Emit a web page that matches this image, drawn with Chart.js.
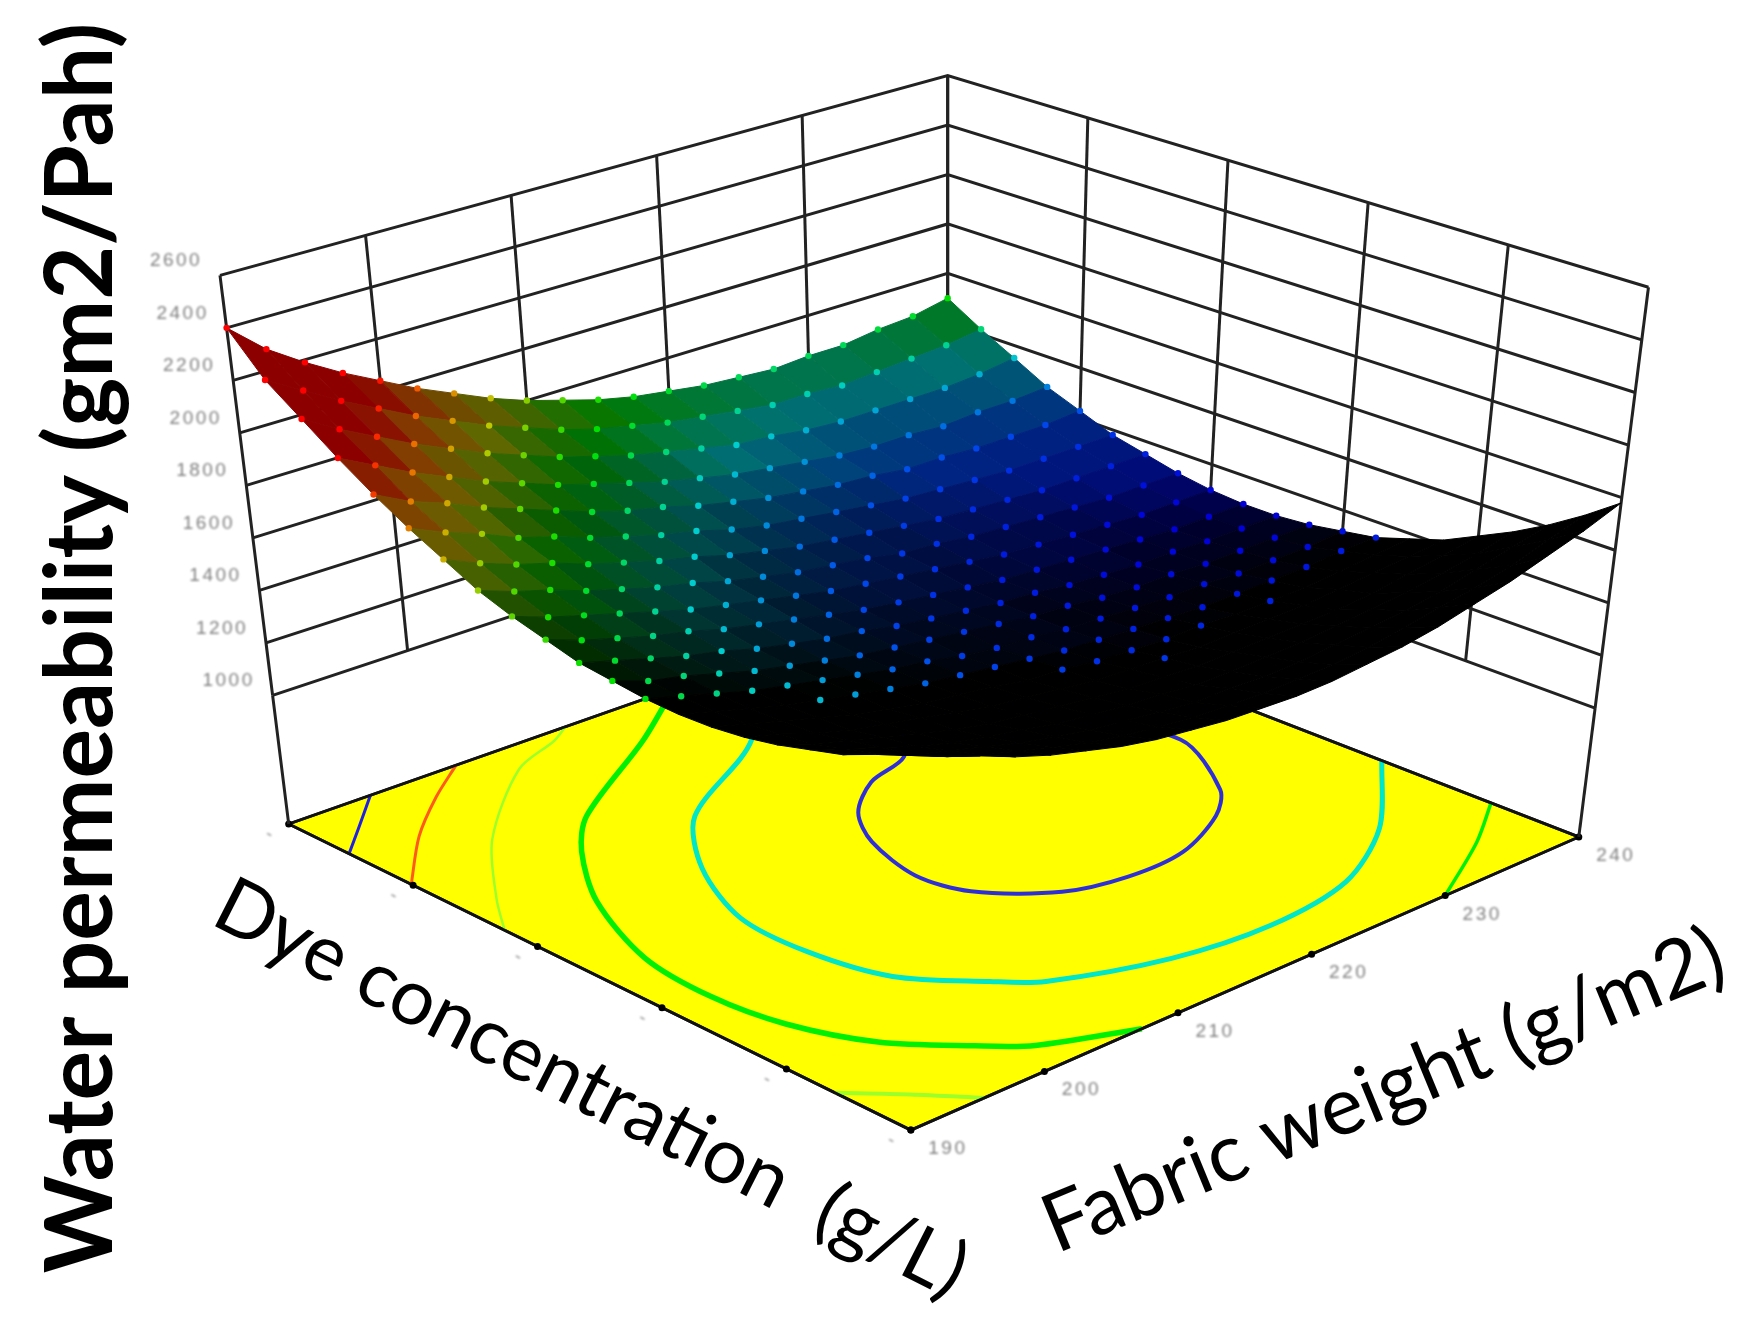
<!DOCTYPE html>
<html>
<head>
<meta charset="utf-8">
<title>Water permeability surface</title>
<script src="https://cdn.jsdelivr.net/npm/chart.js"></script>
<style>
  html, body { margin: 0; padding: 0; background: #fff; }
  canvas { display: block; }
</style>
</head>
<body>
<canvas id="graph" width="1754" height="1318"></canvas>
<script>
// axis ticks
const weightTicks = [190, 200, 210, 220, 230, 240]
const dyeTicks = [0, 0.2, 0.4, 0.6, 0.8, 1]
const dyeTickLabels = ['-', '-', '-', '-', '-', '-']
const zTicks = [1000, 1200, 1400, 1600, 1800, 2000, 2200, 2400, 2600]

// surface samples, one row per dye position (front to back)
const surfaceWeights = [190, 192.5, 195, 197.5, 200, 202.5, 205, 207.5, 210, 212.5, 215, 217.5, 220, 222.5, 225, 227.5, 230, 232.5, 235, 237.5, 240]
const surfaceDyes = [0, 0.05, 0.1, 0.15, 0.2, 0.25, 0.3, 0.35, 0.4, 0.45, 0.5, 0.55, 0.6, 0.65, 0.7, 0.75, 0.8, 0.85, 0.9, 0.95, 1]
const permeability = [
  [1950,1890,1830,1770,1720,1680,1640,1610,1590,1570,1560,1550,1550,1560,1570,1590,1620,1650,1690,1730,1780],
  [1890,1830,1770,1720,1680,1640,1600,1570,1550,1530,1520,1510,1510,1510,1520,1540,1560,1580,1610,1650,1690],
  [1830,1780,1720,1680,1640,1600,1570,1540,1520,1500,1480,1480,1470,1470,1480,1490,1500,1520,1550,1580,1610],
  [1790,1740,1690,1640,1600,1570,1540,1510,1490,1470,1460,1440,1440,1440,1440,1450,1460,1470,1490,1510,1540],
  [1750,1700,1660,1620,1580,1540,1510,1490,1470,1450,1430,1420,1410,1410,1410,1410,1410,1420,1440,1460,1480],
  [1720,1680,1630,1590,1560,1530,1500,1470,1450,1430,1410,1400,1390,1380,1380,1380,1380,1390,1400,1410,1420],
  [1700,1660,1620,1580,1540,1510,1480,1460,1440,1410,1400,1380,1370,1360,1360,1350,1350,1350,1360,1370,1380],
  [1690,1650,1610,1570,1540,1510,1480,1450,1430,1410,1390,1370,1360,1350,1340,1330,1330,1330,1330,1340,1340],
  [1690,1650,1610,1570,1540,1510,1480,1450,1430,1400,1380,1370,1350,1340,1330,1320,1320,1310,1310,1310,1320],
  [1700,1650,1620,1580,1540,1510,1480,1450,1430,1410,1390,1370,1350,1340,1320,1310,1310,1300,1300,1300,1300],
  [1710,1670,1630,1590,1560,1520,1490,1460,1440,1410,1390,1370,1350,1340,1320,1310,1300,1300,1290,1290,1290],
  [1740,1690,1650,1610,1580,1540,1510,1480,1450,1420,1400,1380,1360,1340,1330,1320,1310,1300,1290,1290,1290],
  [1770,1720,1680,1640,1600,1560,1530,1500,1470,1440,1420,1400,1380,1360,1340,1330,1320,1310,1300,1300,1300],
  [1810,1760,1720,1670,1630,1590,1560,1520,1490,1460,1440,1420,1390,1380,1360,1350,1340,1330,1320,1320,1320],
  [1870,1810,1760,1720,1670,1630,1590,1560,1520,1490,1460,1440,1420,1400,1380,1370,1360,1350,1350,1350,1350],
  [1930,1870,1820,1760,1720,1670,1630,1590,1560,1520,1490,1470,1450,1430,1410,1400,1390,1380,1380,1380,1380],
  [2000,1930,1880,1820,1770,1720,1670,1630,1600,1560,1530,1500,1480,1460,1450,1430,1430,1420,1420,1420,1430],
  [2080,2010,1940,1880,1820,1770,1720,1680,1640,1600,1570,1540,1520,1500,1480,1470,1470,1460,1470,1470,1480],
  [2170,2090,2020,1950,1890,1830,1780,1730,1690,1650,1620,1590,1560,1550,1530,1520,1520,1520,1520,1530,1550],
  [2260,2180,2100,2030,1960,1900,1840,1790,1740,1700,1670,1640,1620,1600,1580,1580,1570,1580,1590,1600,1620],
  [2400,2280,2190,2110,2040,1970,1910,1850,1800,1760,1720,1690,1670,1650,1640,1630,1640,1640,1660,1670,1700]
]

// contour lines on the floor: weight (g/m2) and dye position
const blueInnerWeight = [225, 222.1, 218.45, 215.1, 213, 211.7, 212.5, 216, 219.9, 224.2, 228.7, 231.3, 234.5, 232, 225]
const blueInnerDye = [0.76, 0.694, 0.669, 0.619, 0.553, 0.456, 0.384, 0.313, 0.29, 0.294, 0.337, 0.385, 0.515, 0.68, 0.76]
const cyanWeight = [222, 217.5, 208.1, 203.7, 200.9, 200.7, 202, 205.4, 207.6, 214.4, 220.95, 227.6, 233.6, 240]
const cyanDye = [0.95, 0.84, 0.732, 0.627, 0.506, 0.395, 0.286, 0.203, 0.16, 0.104, 0.086, 0.107, 0.181, 0.312]
const greenLeftWeight = [219.2, 213, 203.6, 200.2, 196.4, 193.5, 192.95, 193.7, 195.9, 199.4, 201.8, 207.3]
const greenLeftDye = [1, 0.918, 0.81, 0.746, 0.641, 0.502, 0.385, 0.28, 0.179, 0.099, 0.053, 0]
const greenRightWeight = [230, 235.9, 240]
const greenRightDye = [0, 0.075, 0.139]
const limeBackWeight = [211, 209.2, 205, 197.5, 192.4, 190]
const limeBackDye = [1, 0.98, 0.948, 0.832, 0.717, 0.653]
const limeFrontWeight = [190, 192.85, 195.5]
const limeFrontDye = [0.122, 0.0625, 0]
const redWeight = [202.7, 198.85, 194.6, 190]
const redDye = [1, 0.951, 0.888, 0.803]
const blueOuterWeight = [196.2, 192.9, 190]
const blueOuterDye = [1, 0.948, 0.903]

// colours of the surface by permeability
const colourLevels = [1290, 1420, 1560, 1700, 1840, 1950, 2060]
const colourStops = [[0, 0, 215], [0, 70, 235], [0, 205, 205], [0, 225, 0], [190, 200, 0], [235, 110, 0], [255, 0, 0]]

const Z_FLOOR = 510, Z_TOP = 2600

// the picture frame, as the original plot's camera saw it
const floorBox = { front: [911, 1133], right: [1582, 838], left: [286, 825], back: [948, 592] }
const topBox = { front: [908, 584], right: [1652, 285], left: [217, 273], back: [948, 72] }

function blend(box, a, b, k) {
    return (1 - a) * (1 - b) * box.front[k] + a * (1 - b) * box.right[k] + (1 - a) * b * box.left[k] + a * b * box.back[k]
}

function project(weight, dye, z) {
    let a = (weight - 190) / 50
    let w = (z - Z_FLOOR) / (Z_TOP - Z_FLOOR)
    let out = {}
    out.x = blend(floorBox, a, dye, 0) * (1 - w) + blend(topBox, a, dye, 0) * w
    out.y = blend(floorBox, a, dye, 1) * (1 - w) + blend(topBox, a, dye, 1) * w
    return out
}

function colourOf(z, dim) {
    let n = colourLevels.length
    let c = colourStops[n - 1]
    if (z <= colourLevels[0]) c = colourStops[0]
    else {
        for (let i = 0; i < n - 1; i++) {
            if (z >= colourLevels[i] && z < colourLevels[i + 1]) {
                let t = (z - colourLevels[i]) / (colourLevels[i + 1] - colourLevels[i])
                c = colourStops[i].map((v, k) => v + (colourStops[i + 1][k] - v) * t)
            }
        }
    }
    return `rgb(${c.map(v => Math.round(v * dim)).join(',')})`
}

var datasets = []
var drawIndex = 0
function addLine(points, color, width, extra) {
    drawIndex++
    datasets.push(Object.assign({
        data: points,
        showLine: true,
        borderColor: color,
        borderWidth: width,
        pointRadius: 0,
        fill: false,
        order: -drawIndex
    }, extra || {}))
}

// floor
addLine([
    project(190, 0, Z_FLOOR), project(240, 0, Z_FLOOR), project(240, 1, Z_FLOOR), project(190, 1, Z_FLOOR), project(190, 0, Z_FLOOR)
], '#111', 2.8, { fill: 'shape', backgroundColor: '#ffff00' })

// contours
function addContour(weights, dyes, color, width) {
    addLine(weights.map((w, i) => project(w, dyes[i], Z_FLOOR)), color, width, { tension: 0.3 })
}
addContour(blueInnerWeight, blueInnerDye, '#2f2fd8', 4)
addContour(cyanWeight, cyanDye, '#00e6c8', 5)
addContour(greenLeftWeight, greenLeftDye, '#00f000', 5.5)
addContour(greenRightWeight, greenRightDye, '#00f000', 3.5)
addContour(limeBackWeight, limeBackDye, '#9dff2a', 2.5)
addContour(limeFrontWeight, limeFrontDye, '#9dff2a', 4)
addContour(redWeight, redDye, '#ff5a1e', 3)
addContour(blueOuterWeight, blueOuterDye, '#2020e0', 3)

// redraw the two front edges over the contour ends
addLine([project(190, 1, Z_FLOOR), project(190, 0, Z_FLOOR), project(240, 0, Z_FLOOR)], '#111', 2.8)
addLine([project(190, 1, Z_FLOOR), project(240, 1, Z_FLOOR), project(240, 0, Z_FLOOR)], '#111', 2.8)

// tick blobs on the floor edges
datasets.push({
    data: weightTicks.map(w => project(w, 0, Z_FLOOR)).concat(dyeTicks.map(d => project(190, d, Z_FLOOR))),
    showLine: false, pointRadius: 3.5, pointBackgroundColor: '#000', pointBorderWidth: 0, order: -(++drawIndex)
})

// walls
for (let z of zTicks) {
    addLine([project(190, 1, z), project(240, 1, z), project(240, 0, z)], '#222', 3)
}
for (let w of weightTicks) {
    addLine([project(w, 1, 1000), project(w, 1, Z_TOP)], '#222', 3)
}
for (let d of dyeTicks) {
    addLine([project(240, d, 1000), project(240, d, Z_TOP)], '#222', 3)
}
addLine([project(190, 1, Z_FLOOR), project(190, 1, 1000)], '#222', 3)
addLine([project(240, 0, Z_FLOOR), project(240, 0, 1000)], '#222', 3)

// surface, back cells first so the front covers them
const nW = surfaceWeights.length, nD = surfaceDyes.length
function node(i, j) {
    return project(surfaceWeights[i], surfaceDyes[j], permeability[j][i])
}
function cellArea(i, j) {
    let p = [node(i, j), node(i + 1, j), node(i + 1, j + 1), node(i, j + 1)]
    let s = 0
    for (let k = 0; k < 4; k++) {
        let q = p[(k + 1) % 4]
        s += p[k].x * q.y - q.x * p[k].y
    }
    return Math.abs(s / 2)
}
// area averaged over the neighbouring cells, the table is rounded and one cell alone is noisy
function nearArea(i, j) {
    let sum = 0, n = 0
    for (let dj = -1; dj <= 1; dj++) {
        for (let di = -1; di <= 1; di++) {
            let ci = i + di, cj = j + dj
            if (ci < 0 || cj < 0 || ci > nW - 2 || cj > nD - 2) continue
            sum += cellArea(ci, cj)
            n++
        }
    }
    return sum / n
}
// cells seen nearly edge-on show as plain black in the original
const MIN_AREA = 680, FULL_AREA = 1050
var cellsByDepth = []
for (let j = 0; j < nD - 1; j++) {
    for (let i = 0; i < nW - 1; i++) {
        cellsByDepth.push([i, j])
    }
}
cellsByDepth.sort((p, q) => (q[0] + q[1]) - (p[0] + p[1]))
for (let [i, j] of cellsByDepth) {
    let area = nearArea(i, j)
    let z = (permeability[j][i] + permeability[j][i + 1] + permeability[j + 1][i] + permeability[j + 1][i + 1]) / 4
    let k = Math.max(0, Math.min(1, (area - MIN_AREA) / (FULL_AREA - MIN_AREA)))
    let color = colourOf(z, 0.55 * k)
    addLine([node(i, j), node(i + 1, j), node(i + 1, j + 1), node(i, j + 1), node(i, j)], color, 1, { fill: 'shape', backgroundColor: color })
}

// coloured dots on the faces that are not seen edge-on
var dots = [], dotColours = []
for (let j = 0; j < nD; j++) {
    for (let i = 0; i < nW; i++) {
        let ci = Math.min(i, nW - 2), cj = Math.min(j, nD - 2)
        if (nearArea(ci, cj) < MIN_AREA) continue
        dots.push(node(i, j))
        dotColours.push(colourOf(permeability[j][i], 1))
    }
}
datasets.push({ data: dots, showLine: false, pointRadius: 3.2, pointBackgroundColor: dotColours, pointBorderWidth: 0, order: -(++drawIndex) })

// axis text is drawn on the same scales as the marks
const textPlugin = {
    id: 'axisText',
    afterDraw(chart) {
        const ctx = chart.ctx
        const sx = chart.scales.x, sy = chart.scales.y
        function put(text, at, dx, dy, font, color, angle, spacing) {
            ctx.save()
            ctx.translate(sx.getPixelForValue(at.x) + dx, sy.getPixelForValue(at.y) + dy)
            ctx.rotate(angle || 0)
            ctx.font = font
            ctx.fillStyle = color
            ctx.textAlign = 'center'
            ctx.textBaseline = 'alphabetic'
            ctx.letterSpacing = spacing || '0px'
            ctx.fillText(text, 0, 0)
            ctx.restore()
        }
        ctx.save()
        ctx.filter = 'blur(0.8px)'
        for (let z of zTicks) {
            put(String(z), project(190, 1, z), -44, -9, '19px "Liberation Sans"', '#808080', 0, '2.5px')
        }
        for (let w of weightTicks) {
            put(String(w), project(w, 0, Z_FLOOR), 37, 24, '19px "Liberation Sans"', '#808080', 0, '2.5px')
        }
        dyeTicks.forEach((d, i) => {
            put(dyeTickLabels[i], project(190, d, Z_FLOOR), -22, 15, '19px "Liberation Sans"', '#909090', 0.5)
        })
        ctx.restore()
        put('Water permeability (gm2/Pah)', { x: 108, y: 648 }, 0, 0, 'bold 93px Lato', '#000', -Math.PI / 2)
        put('Dye concentration  (g/L)', { x: 578, y: 1114 }, 0, 0, '78px Lato', '#000', 0.47)
        put('Fabric weight (g/m2)', { x: 1396, y: 1118 }, 0, 0, '81px Lato', '#000', -0.39)
    }
}

new Chart(document.getElementById('graph'), {
    type: 'scatter',
    data: { datasets: datasets },
    options: {
        responsive: false,
        animation: false,
        devicePixelRatio: 1,
        layout: { padding: 0 },
        plugins: { legend: { display: false }, tooltip: { enabled: false }, title: { display: false } },
        scales: {
            x: { type: 'linear', min: 0, max: 1754, display: false },
            y: { type: 'linear', min: 0, max: 1318, reverse: true, display: false }
        }
    },
    plugins: [textPlugin]
})
</script>
</body>
</html>
